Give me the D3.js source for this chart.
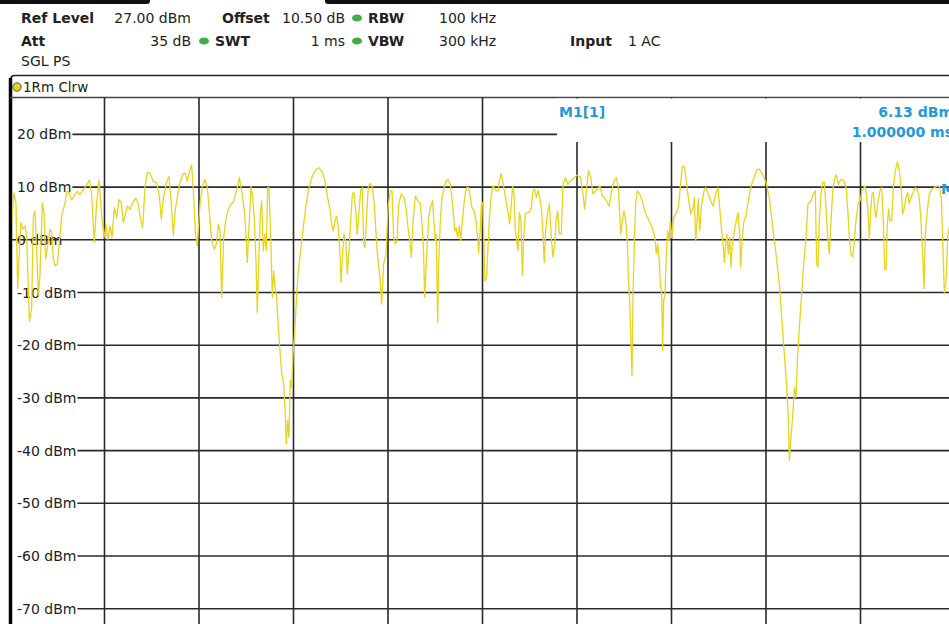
<!DOCTYPE html>
<html>
<head>
<meta charset="utf-8">
<script src="https://cdn.jsdelivr.net/npm/d3@7"></script>
<style>
    body { margin: 0; background: #fff; }
    svg { display: block; font-family: 'DejaVu Sans', Verdana, sans-serif; }
</style>
</head>
<body>
<svg id="chart" width="949" height="624"></svg>
<script>
// instrument settings shown in the header
const refLevel = '27.00 dBm'
const offset = '10.50 dB'
const rbw = '100 kHz'
const att = '35 dB'
const swt = '1 ms'
const vbw = '300 kHz'
const input = '1 AC'
const mode = 'SGL PS'
const traceName = '1Rm Clrw'

// level axis (dBm) and sweep time grid (ms)
const levelRange = [-73, 27]
const yTicks = [20, 10, 0, -10, -20, -30, -40, -50, -60, -70]
const timeGrid = [0.1, 0.2, 0.3, 0.4, 0.5, 0.6, 0.7, 0.8, 0.9, 1.0]

const marker = { name: 'M1[1]', label: 'M1', time: 1.0, level: 6.13, levelText: '6.13 dBm', timeText: '1.000000 ms' }

// trace 1: [time ms, level dBm]
const trace = [
    [0.0000, 2.5], [0.0018, 3.6], [0.0042, 8.9], [0.0063, 7.0], [0.0081, -9.3], [0.0113, 3.3], [0.0134, 2.0], [0.0159, 2.6],
    [0.0176, 0.8], [0.0205, -15.5], [0.0229, -13.0], [0.0247, 4.5], [0.0265, 5.4], [0.0282, -1.8], [0.0300, -10.5], [0.0317, -6.8],
    [0.0342, 7.0], [0.0360, 5.1], [0.0377, -3.6], [0.0399, -1.1], [0.0423, 2.0], [0.0441, 1.4], [0.0458, -3.6], [0.0476, -4.9],
    [0.0501, -4.6], [0.0522, -0.5], [0.0547, 4.5], [0.0582, 7.0], [0.0600, 9.2], [0.0624, 8.9], [0.0653, 7.6], [0.0688, 8.6],
    [0.0712, 9.2], [0.0741, 8.6], [0.0776, 9.5], [0.0811, 10.4], [0.0840, 11.3], [0.0864, 8.6], [0.0892, -0.5], [0.0917, 7.0],
    [0.0942, 11.3], [0.0970, 4.5], [0.0995, 0.4], [0.1016, 2.9], [0.1037, 0.1], [0.1058, 2.6], [0.1079, 0.4], [0.1104, 6.1],
    [0.1129, 4.2], [0.1153, 7.6], [0.1178, 7.0], [0.1199, 3.3], [0.1217, 4.5], [0.1242, 6.4], [0.1270, 5.8], [0.1298, 7.0],
    [0.1330, 7.9], [0.1354, 7.0], [0.1376, 4.5], [0.1404, 2.3], [0.1429, 10.1], [0.1453, 12.8], [0.1481, 12.6], [0.1517, 11.1],
    [0.1552, 10.8], [0.1580, 8.3], [0.1601, 3.9], [0.1623, 7.9], [0.1658, 11.1], [0.1683, 12.0], [0.1707, 6.7], [0.1728, 0.8],
    [0.1750, 5.8], [0.1778, 8.9], [0.1806, 11.4], [0.1834, 12.6], [0.1855, 12.6], [0.1876, 11.1], [0.1898, 12.9], [0.1922, 14.2],
    [0.1940, 9.5], [0.1961, 1.4], [0.1982, -1.1], [0.2011, 6.8], [0.2035, 10.0], [0.2063, 11.5], [0.2088, 9.9], [0.2106, 6.1],
    [0.2134, -0.2], [0.2162, -1.8], [0.2183, -0.8], [0.2205, 3.0], [0.2222, 1.7], [0.2240, -10.9], [0.2261, 0.4], [0.2282, 3.6],
    [0.2310, 5.8], [0.2339, 6.8], [0.2363, 7.1], [0.2388, 8.7], [0.2409, 10.2], [0.2427, 11.8], [0.2452, 9.3], [0.2480, 5.5],
    [0.2497, 1.1], [0.2511, -4.3], [0.2529, 2.3], [0.2550, 10.2], [0.2568, 8.0], [0.2586, 3.6], [0.2603, -4.0], [0.2617, -13.8],
    [0.2635, -2.7], [0.2649, 4.9], [0.2663, 7.4], [0.2681, -2.1], [0.2698, 1.1], [0.2712, -2.1], [0.2727, 9.9], [0.2741, 9.9],
    [0.2762, -1.5], [0.2776, -10.9], [0.2790, -5.9], [0.2804, -9.0], [0.2822, -10.9], [0.2839, -16.6], [0.2857, -21.0], [0.2875, -25.4],
    [0.2896, -27.4], [0.2910, -31.8], [0.2924, -38.7], [0.2938, -34.3], [0.2952, -37.5], [0.2966, -26.7], [0.2981, -28.0], [0.2995, -21.7],
    [0.3016, -16.6], [0.3034, -10.3], [0.3051, -5.9], [0.3079, -1.5], [0.3104, 2.3], [0.3129, 6.1], [0.3157, 9.3], [0.3192, 11.8],
    [0.3228, 13.1], [0.3270, 13.7], [0.3305, 12.8], [0.3333, 11.2], [0.3361, 8.0], [0.3386, 5.8], [0.3404, 3.0], [0.3421, 1.7],
    [0.3439, 3.6], [0.3457, 4.5], [0.3474, 2.3], [0.3492, -2.7], [0.3503, -8.1], [0.3517, -3.3], [0.3534, 1.1], [0.3552, -0.2],
    [0.3570, -6.5], [0.3587, -2.1], [0.3605, 3.6], [0.3623, 8.7], [0.3640, 9.0], [0.3658, 5.5], [0.3675, 1.1], [0.3693, 5.5],
    [0.3711, 9.3], [0.3728, 9.9], [0.3742, -0.8], [0.3757, -1.5], [0.3771, 3.6], [0.3792, 10.2], [0.3813, 10.7], [0.3834, 9.9],
    [0.3855, 6.8], [0.3880, -0.8], [0.3898, -4.6], [0.3915, -7.1], [0.3933, -12.2], [0.3954, -4.6], [0.3979, -2.7], [0.4000, 6.1],
    [0.4025, 9.3], [0.4042, 9.3], [0.4060, 0.4], [0.4078, -0.8], [0.4095, -0.2], [0.4113, 6.8], [0.4141, 8.7], [0.4169, 8.0],
    [0.4190, 6.1], [0.4212, 2.3], [0.4229, -0.2], [0.4247, -3.3], [0.4265, 3.6], [0.4289, 8.3], [0.4317, 7.4], [0.4342, 6.8],
    [0.4360, 3.0], [0.4377, -2.7], [0.4388, -10.9], [0.4406, -4.0], [0.4430, 4.2], [0.4451, 6.4], [0.4473, 7.4], [0.4487, 3.0],
    [0.4501, -0.2], [0.4511, 1.1], [0.4526, -15.7], [0.4536, -4.6], [0.4554, 3.6], [0.4571, 8.0], [0.4593, 9.9], [0.4614, 11.1],
    [0.4635, 11.5], [0.4660, 10.5], [0.4684, 6.8], [0.4706, 1.7], [0.4720, 2.3], [0.4737, 0.4], [0.4755, 2.7], [0.4769, -0.2],
    [0.4787, 3.6], [0.4811, 8.0], [0.4832, 9.9], [0.4854, 9.9], [0.4871, 8.0], [0.4889, 6.1], [0.4910, 5.5], [0.4931, 3.6],
    [0.4949, 0.4], [0.4959, -2.4], [0.4974, 1.1], [0.4988, 6.8], [0.5002, 7.1], [0.5016, -0.8], [0.5026, -7.8], [0.5044, -7.1],
    [0.5058, -1.5], [0.5072, 3.6], [0.5090, 8.0], [0.5108, 10.2], [0.5125, 9.9], [0.5143, 9.3], [0.5164, 9.3], [0.5178, 11.2],
    [0.5196, 12.6], [0.5213, 11.2], [0.5231, 9.3], [0.5249, 7.4], [0.5270, 5.2], [0.5287, 3.0], [0.5305, 6.8], [0.5319, 10.2],
    [0.5333, 8.7], [0.5347, 1.7], [0.5361, -0.2], [0.5376, -2.1], [0.5390, 5.2], [0.5407, 3.6], [0.5422, -6.8], [0.5436, 0.4],
    [0.5453, 4.9], [0.5474, 5.2], [0.5496, 5.2], [0.5517, 6.1], [0.5534, 9.3], [0.5552, 9.6], [0.5570, 8.0], [0.5587, 9.3],
    [0.5605, 8.0], [0.5623, 6.1], [0.5640, 1.1], [0.5654, -4.3], [0.5668, 1.7], [0.5686, 4.9], [0.5707, 6.8], [0.5728, 0.4],
    [0.5746, -3.3], [0.5764, -0.8], [0.5778, 3.6], [0.5795, 5.5], [0.5813, 1.1], [0.5834, 1.1], [0.5852, 10.5], [0.5876, 11.8],
    [0.5905, 10.5], [0.5929, 11.2], [0.5951, 11.5], [0.6004, 12.3], [0.6039, 11.8], [0.6063, 8.7], [0.6081, 5.8], [0.6099, 9.3],
    [0.6120, 13.1], [0.6145, 11.8], [0.6169, 8.7], [0.6198, 9.3], [0.6226, 9.9], [0.6243, 10.2], [0.6268, 8.3], [0.6303, 7.7],
    [0.6339, 6.4], [0.6367, 9.3], [0.6392, 11.2], [0.6416, 11.8], [0.6437, 9.9], [0.6451, 5.5], [0.6462, 1.1], [0.6480, 3.6],
    [0.6497, 5.5], [0.6515, 3.6], [0.6533, -0.2], [0.6543, -7.1], [0.6557, -11.6], [0.6571, -19.1], [0.6582, -25.8], [0.6593, -10.3],
    [0.6607, -0.2], [0.6621, 6.8], [0.6638, 9.3], [0.6663, 8.7], [0.6691, 7.4], [0.6727, 4.9], [0.6762, 3.6], [0.6797, 2.3],
    [0.6825, 0.4], [0.6839, -2.7], [0.6853, -0.8], [0.6868, -3.3], [0.6882, -8.4], [0.6896, -10.3], [0.6906, -21.0], [0.6917, -11.6],
    [0.6931, -10.3], [0.6945, -2.7], [0.6959, 1.7], [0.6974, -0.2], [0.6988, 3.6], [0.7002, 0.4], [0.7023, 4.2], [0.7044, 4.9],
    [0.7072, 6.1], [0.7093, 9.9], [0.7115, 14.0], [0.7139, 13.7], [0.7157, 11.2], [0.7178, 8.0], [0.7203, 4.9], [0.7228, 6.1],
    [0.7242, 8.0], [0.7256, -0.2], [0.7270, 3.6], [0.7284, 7.7], [0.7298, 1.7], [0.7319, 6.8], [0.7344, 9.3], [0.7362, 9.9],
    [0.7390, 8.7], [0.7414, 7.4], [0.7439, 6.4], [0.7467, 8.7], [0.7492, 9.9], [0.7510, 6.1], [0.7531, 1.7], [0.7549, -1.5],
    [0.7559, -4.3], [0.7573, -0.8], [0.7587, 1.1], [0.7601, -2.7], [0.7616, 0.4], [0.7630, -5.2], [0.7644, -0.8], [0.7665, 1.7],
    [0.7686, 3.6], [0.7704, 5.2], [0.7721, 1.1], [0.7732, -5.2], [0.7749, 0.4], [0.7767, 3.6], [0.7785, 4.2], [0.7813, 7.4],
    [0.7838, 9.9], [0.7862, 11.2], [0.7884, 12.4], [0.7908, 13.4], [0.7929, 13.4], [0.7965, 12.4], [0.8000, 10.9], [0.8035, 8.0],
    [0.8071, 2.3], [0.8106, -2.7], [0.8141, -8.4], [0.8169, -15.4], [0.8194, -21.7], [0.8219, -28.0], [0.8236, -33.7], [0.8247, -41.9],
    [0.8261, -38.1], [0.8282, -33.7], [0.8300, -28.0], [0.8317, -29.9], [0.8335, -21.7], [0.8353, -16.6], [0.8377, -10.3], [0.8399, -4.6],
    [0.8423, 0.4], [0.8444, 6.8], [0.8476, 7.4], [0.8501, 8.7], [0.8522, 9.3], [0.8536, -4.6], [0.8550, -5.2], [0.8564, 3.6],
    [0.8582, 8.7], [0.8600, 10.9], [0.8617, 10.9], [0.8635, 6.1], [0.8653, 0.4], [0.8670, -2.7], [0.8688, 3.6], [0.8706, 9.3],
    [0.8727, 11.8], [0.8744, 12.3], [0.8765, 10.5], [0.8783, 11.2], [0.8804, 11.5], [0.8825, 11.2], [0.8847, 9.9], [0.8864, 6.1],
    [0.8882, 0.4], [0.8899, -2.7], [0.8917, -3.3], [0.8935, -0.2], [0.8952, 3.6], [0.8974, 6.8], [0.8995, 7.4], [0.9016, 9.3],
    [0.9037, 9.9], [0.9051, 10.2], [0.9065, 8.0], [0.9079, 5.5], [0.9093, 0.1], [0.9107, 5.5], [0.9122, 8.7], [0.9136, 9.0],
    [0.9150, 5.8], [0.9164, 4.2], [0.9185, 7.4], [0.9206, 9.3], [0.9224, 9.9], [0.9241, 3.6], [0.9256, -5.6], [0.9270, -5.6],
    [0.9284, 3.0], [0.9298, 5.8], [0.9312, 3.6], [0.9330, 3.6], [0.9347, 9.9], [0.9369, 13.1], [0.9390, 14.8], [0.9411, 13.1],
    [0.9432, 9.3], [0.9446, 4.9], [0.9464, 6.1], [0.9481, 8.0], [0.9499, 9.0], [0.9517, 6.8], [0.9534, 8.0], [0.9552, 8.7],
    [0.9580, 9.9], [0.9601, 9.6], [0.9622, 8.0], [0.9640, 3.6], [0.9658, -2.7], [0.9672, -9.3], [0.9686, 1.1], [0.9707, 5.5],
    [0.9728, 8.7], [0.9757, 9.6], [0.9781, 9.9], [0.9806, 10.2], [0.9834, 10.2], [0.9855, 8.0], [0.9870, -0.2], [0.9887, -10.0],
    [0.9905, -7.8], [0.9923, 0.4], [0.9937, 2.3], [0.9970, 4.0], [1.0000, 6.13]
]

const width = 949
const height = 624

const svg = d3.select('#chart')

const x = d3.scaleLinear()
    .domain([0, 1])
    .range([10, 955])

const y = d3.scaleLinear()
    .domain(levelRange)
    .range([624.5, 97.5])

const gridColor = '#2a2a2a'
const textColor = '#222'
const markerBlue = '#1f98dc'

/// header bars (cropped tabs) ////////
svg.append('rect').attr('x', -6).attr('y', -3).attr('width', 156).attr('height', 7).attr('rx', 3).attr('fill', '#111')
svg.append('rect').attr('x', 325).attr('y', -3).attr('width', 640).attr('height', 7).attr('rx', 3).attr('fill', '#111')

/// header settings ////////
const header = svg.append('g').attr('font-size', 14).attr('fill', textColor)

function label(txt, px, py, bold, anchor) {
    header.append('text')
        .attr('x', px)
        .attr('y', py)
        .attr('font-weight', bold ? 'bold' : 'normal')
        .attr('text-anchor', anchor || 'start')
        .text(txt)
}

function dot(px, py) {
    header.append('ellipse')
        .attr('cx', px).attr('cy', py)
        .attr('rx', 5).attr('ry', 3.6)
        .attr('fill', '#3fae48')
}

label('Ref Level', 21, 23, true)
label(refLevel, 191, 23, false, 'end')
label('Offset', 222, 23, true)
label(offset, 345, 23, false, 'end')
dot(357, 18)
label('RBW', 368, 23, true)
label(rbw, 439, 23)

label('Att', 21, 46, true)
label(att, 191, 46, false, 'end')
dot(204, 41)
label('SWT', 215, 46, true)
label(swt, 345, 46, false, 'end')
dot(357, 41)
label('VBW', 368, 46, true)
label(vbw, 439, 46)
label('Input', 570, 46, true)
label(input, 628, 46)

label(mode, 21, 66, false)

/// frame and trace legend ////////
svg.append('path')
    .attr('d', `M10.5,${height} V80 Q10.5,75.5 15,75.5 H${width}`)
    .attr('fill', 'none')
    .attr('stroke', '#222')
    .attr('stroke-width', 1.6)

svg.append('line')
    .attr('x1', 10.5).attr('x2', 10.5)
    .attr('y1', 78).attr('y2', height)
    .attr('stroke', '#000')
    .attr('stroke-width', 3.5)

svg.append('circle')
    .attr('cx', 17).attr('cy', 87).attr('r', 4.2)
    .attr('fill', '#e9d21c')
    .attr('stroke', '#555')
    .attr('stroke-width', 1)

svg.append('text')
    .attr('x', 23).attr('y', 92)
    .attr('font-size', 13.5)
    .attr('fill', textColor)
    .text(traceName)

/// grid ////////
const grid = svg.append('g')

grid.append('line')
    .attr('x1', 10).attr('x2', width)
    .attr('y1', y(levelRange[1])).attr('y2', y(levelRange[1]))
    .attr('stroke', '#444')
    .attr('stroke-width', 1.3)

grid.selectAll('line.vgrid')
    .data(timeGrid)
    .join('line')
    .classed('vgrid', true)
    .attr('x1', d => x(d))
    .attr('x2', d => x(d))
    .attr('y1', y(levelRange[1]))
    .attr('y2', height)
    .attr('stroke', gridColor)
    .attr('stroke-width', 1.6)

const tickLabels = svg.append('g')
    .attr('font-size', 14)
    .attr('fill', textColor)

tickLabels.selectAll('text')
    .data(yTicks)
    .join('text')
    .attr('x', 17)
    .attr('y', d => y(d))
    .attr('dy', '0.36em')
    .text(d => `${d} dBm`)

// the gridline starts where the label ends (the 0 dBm line runs through it)
tickLabels.selectAll('text').each(function(d) {
    const end = 17 + this.getComputedTextLength() + 1
    grid.append('line')
        .attr('x1', d === 0 ? 12 : end)
        .attr('x2', width)
        .attr('y1', y(d))
        .attr('y2', y(d))
        .attr('stroke', gridColor)
        .attr('stroke-width', 1.6)
})

/// marker info box ////////
const box = svg.append('g')
box.append('rect')
    .attr('x', 557).attr('y', y(levelRange[1]) + 1)
    .attr('width', width - 557).attr('height', 142 - y(levelRange[1]) - 1)
    .attr('fill', '#fff')

box.append('text')
    .attr('x', 559).attr('y', 117)
    .attr('font-size', 14).attr('font-weight', 'bold')
    .attr('fill', markerBlue)
    .text(marker.name)

box.append('text')
    .attr('x', 953).attr('y', 117)
    .attr('text-anchor', 'end')
    .attr('font-size', 14).attr('font-weight', 'bold')
    .attr('fill', markerBlue)
    .text(marker.levelText)

box.append('text')
    .attr('x', 953).attr('y', 137)
    .attr('text-anchor', 'end')
    .attr('font-size', 14).attr('font-weight', 'bold')
    .attr('fill', markerBlue)
    .text(marker.timeText)

/// trace ////////
svg.append('clipPath')
    .attr('id', 'plot-clip')
    .append('rect')
    .attr('x', 12).attr('y', y(levelRange[1]))
    .attr('width', width - 12).attr('height', height - y(levelRange[1]))

const line = d3.line()
    .x(d => x(d[0]))
    .y(d => y(d[1]))

svg.append('path')
    .datum(trace)
    .attr('clip-path', 'url(#plot-clip)')
    .attr('d', line)
    .attr('fill', 'none')
    .attr('stroke', '#e8d41c')
    .attr('stroke-width', 1.3)
    .attr('stroke-linejoin', 'round')

svg.append('text')
    .attr('x', x(marker.time) - 14)
    .attr('y', y(marker.level) - 13)
    .attr('font-size', 14).attr('font-weight', 'bold')
    .attr('fill', markerBlue)
    .text(marker.label)
</script>
</body>
</html>
